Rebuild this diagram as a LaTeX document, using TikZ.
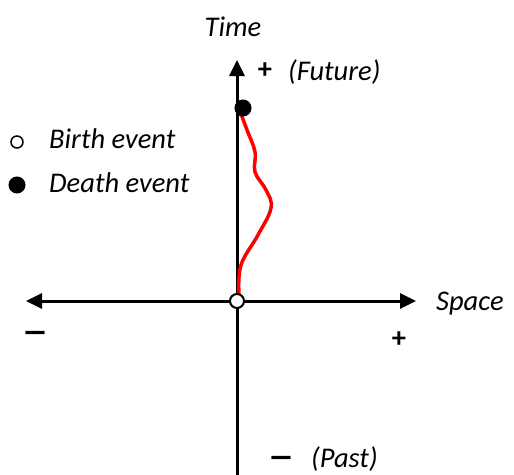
\documentclass[tikz,border=0pt]{standalone}
\usepackage{fontspec}
\usepackage{graphicx}
\setmainfont{Carlito}
\usetikzlibrary{arrows.meta}
\newcommand{\widedash}{\scalebox{1.9}[1.3]{–}}
\begin{document}
\begin{tikzpicture}[x=1pt,y=-1pt,
  axis/.style={line width=3pt,-{Triangle[length=16pt,width=15pt]}},
  lbl/.style={font=\fontsize{28.5}{32}\selectfont\itshape,inner sep=0pt},
  sign/.style={font=\fontsize{28.5}{32}\selectfont\bfseries,inner sep=0pt},
  evt/.style={circle,draw,line width=2pt,minimum size=14pt,inner sep=0pt}]
\useasboundingbox (0,0) rectangle (514,474);
\coordinate (O) at (237,301);
\coordinate (xl) at (26,301);
\coordinate (xr) at (416,301);
\coordinate (yb) at (237,476);
\coordinate (yt) at (237,60);
\draw[axis] (O) -- (xl);
\draw[axis] (O) -- (xr);
\draw[axis] (yb) -- (yt);
% world line
\draw[red,line width=3.5pt] plot[smooth,tension=0.65] coordinates
  {(239,294) (241,265) (258,235) (271,208) (266,190) (255,172) (255,152) (247,130) (241,114)};
\node[evt,fill=black,minimum size=15pt] (death) at (243,108) {};
\node[evt,fill=white] (birth) at (O) {};
% labels
\node[lbl,anchor=base] (time) at (233,36) {Time};
\node[sign,anchor=center] (tplus) at (265,71) {+};
\node[lbl,anchor=base west] (future) at (288,80) {(Future)};
\node[lbl,anchor=base west] (space) at (436,310) {Space};
\node[sign] (xminus) at (35,337) {\widedash};
\node[sign] (xplus) at (399,340) {+};
\node[sign] (tminus) at (281,462) {\widedash};
\node[lbl,anchor=base west] (past) at (311,467) {(Past)};
% legend
\node[evt,line width=1.5pt,minimum size=12pt] (lb) at (17,142) {};
\node[lbl,anchor=base west] (lbt) at (49,148) {Birth event};
\node[evt,fill=black,minimum size=15pt] (ld) at (17,185) {};
\node[lbl,anchor=base west] (ldt) at (49,192) {Death event};
\end{tikzpicture}
\end{document}
